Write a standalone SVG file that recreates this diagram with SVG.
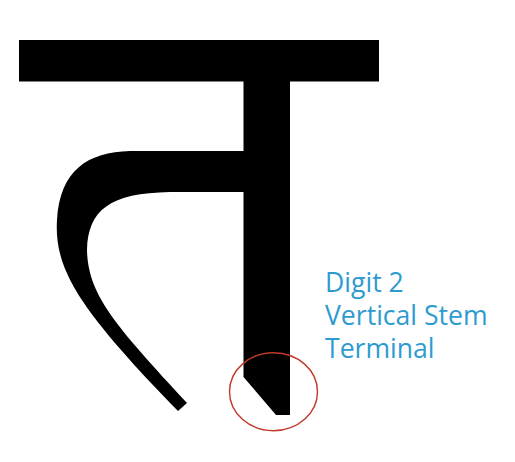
<svg xmlns="http://www.w3.org/2000/svg" width="515" height="462" viewBox="0 0 515 462">
<style>
.glyph{fill:#000}
.lbl{font-family:"Open Sans","Liberation Sans",sans-serif;font-size:26.6px;fill:#2e9bd0}
.mark{fill:none;stroke:#c0392b;stroke-width:1.4}
</style>
<rect width="515" height="462" fill="#fff"/>
<g id="glyph">
<rect class="glyph" x="19" y="40" width="360" height="41.5"/>
<path class="glyph" d="M243.5 81 L290 81 L290 415 L276 415 L243.5 377 Z"/>
<path class="glyph" d="M244 151 L130 151 C88 152 60 170 57 220 C54 270 80 310 178 411 L187 403 C115 325 88 295 87 250 C88 210 110 193 170 192 L244 192 Z"/>
</g>
<ellipse id="highlight" class="mark" cx="273.5" cy="391.7" rx="44" ry="39"/>
<g id="label">
<text class="lbl" x="325" y="292">Digit 2</text>
<text class="lbl" x="325" y="325">Vertical Stem</text>
<text class="lbl" x="325" y="358">Terminal</text>
</g>
</svg>
